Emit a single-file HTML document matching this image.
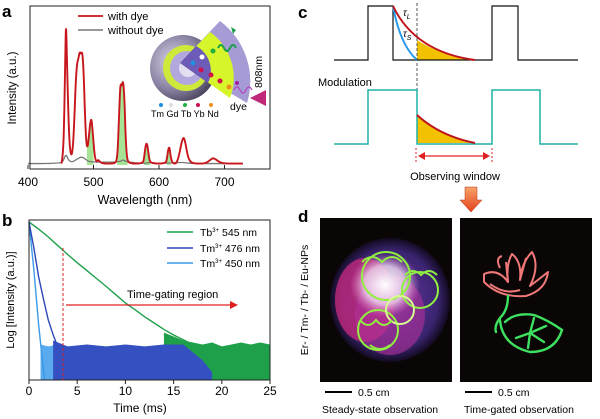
<!DOCTYPE html>
<html><head><meta charset="utf-8"><style>
body{margin:0;background:#fff}
svg{display:block;font-family:"Liberation Sans",Arial,sans-serif}
</style></head><body>
<svg id="fig" width="600" height="419" viewBox="0 0 600 419" xmlns="http://www.w3.org/2000/svg">
<defs>
<radialGradient id="sph" cx="0.35" cy="0.4" r="0.7"><stop offset="0" stop-color="#d8d2e6"/><stop offset="0.6" stop-color="#8a82a2"/><stop offset="1" stop-color="#443d56"/></radialGradient>
<linearGradient id="arrowG" x1="0" y1="0" x2="0" y2="1"><stop offset="0" stop-color="#f9a46a"/><stop offset="1" stop-color="#e2401a"/></linearGradient>
<radialGradient id="blobP" cx="0.5" cy="0.5" r="0.5"><stop offset="0" stop-color="#6a3aa8"/><stop offset="0.8" stop-color="#3a2470"/><stop offset="1" stop-color="#120a20"/></radialGradient>
<radialGradient id="whiteG" cx="0.5" cy="0.5" r="0.5"><stop offset="0" stop-color="#ffffff"/><stop offset="0.6" stop-color="#f0d8f0" stop-opacity="0.8"/><stop offset="1" stop-color="#e080c0" stop-opacity="0"/></radialGradient>
</defs>

<text x="2" y="17" font-size="17" font-weight="bold">a</text>
<text x="2" y="226" font-size="17" font-weight="bold">b</text>
<text x="298" y="18" font-size="17" font-weight="bold">c</text>
<text x="298" y="222" font-size="17" font-weight="bold">d</text>

<!-- Panel a -->
<g id="panelA">
<g id="aFill"></g><g id="aLines"></g>
<rect x="30" y="6" width="240" height="163" fill="none" stroke="#222" stroke-width="1"/>
<g id="aTicks"></g>
<text x="145" y="204" font-size="12.5" text-anchor="middle">Wavelength (nm)</text>
<text transform="translate(16,88) rotate(-90)" font-size="11.5" text-anchor="middle">Intensity (a.u.)</text>
<line x1="78" y1="16" x2="103" y2="16" stroke="#c8161d" stroke-width="1.8"/>
<text x="108" y="20" font-size="11">with dye</text>
<line x1="78" y1="30" x2="103" y2="30" stroke="#777" stroke-width="1.6"/>
<text x="108" y="34" font-size="11">without dye</text>
<g>
<circle cx="183" cy="68" r="33" fill="url(#sph)"/>
<circle cx="186" cy="68" r="23" fill="#cfe83a"/>
<circle cx="187" cy="68" r="17" fill="#b3a8de"/>
<circle cx="188" cy="68" r="9" fill="#e4def2"/>
<path d="M180,63 L220,21 A75,75 0 0 1 247,103 Z" fill="#a79bd6"/>
<path d="M180,63 L210,32 A56,56 0 0 1 230,98 Z" fill="#d6f52a"/>
<path d="M180,63 L196,46 A28,28 0 0 1 208,83 Z" fill="#6e5bb8"/>
<path d="M218,48 q3,-6 6,0 q3,6 6,0 q3,-6 6,0" fill="none" stroke="#1aa04a" stroke-width="2"/>
<polygon points="236,30 231,27 233,34" fill="#1aa04a"/>
<path d="M234,90 q3,-6 6,0 q3,6 6,0 q3,-6 6,0" fill="none" stroke="#b040c0" stroke-width="1.2"/>
<polygon points="250,98 266,90 266,106" fill="#c0287a"/>
<circle cx="193" cy="63" r="2.5" fill="#1e90e0"/><circle cx="202" cy="57" r="2.5" fill="#fff"/>
<circle cx="213" cy="51" r="2.5" fill="#20b040"/><circle cx="201" cy="70" r="2.5" fill="#d0104a"/>
<circle cx="211" cy="75" r="2.5" fill="#d0104a"/><circle cx="220" cy="81" r="2.5" fill="#d0104a"/>
<circle cx="229" cy="87" r="2.5" fill="#f09020"/><circle cx="237" cy="83" r="2" fill="#a020a0"/>
<circle cx="161" cy="105" r="2" fill="#1e90e0"/><circle cx="171" cy="105" r="2" fill="#ddd"/>
<circle cx="185" cy="105" r="2" fill="#20b040"/><circle cx="198" cy="105" r="2" fill="#d0104a"/><circle cx="211" cy="105" r="2" fill="#f09020"/>
<text x="151" y="117" font-size="9">Tm Gd Tb Yb Nd</text>
<text x="230" y="110" font-size="10.5">dye</text>
<text transform="translate(262,88) rotate(-90)" font-size="10.5">808nm</text>
</g>
</g>

<!-- Panel b -->
<g id="panelB">
<g id="bData"></g>
<rect x="29" y="220" width="241" height="160" fill="none" stroke="#222" stroke-width="1"/>
<g id="bTicks"></g>
<line x1="63" y1="248" x2="63" y2="380" stroke="#e02020" stroke-width="1" stroke-dasharray="3,2"/>
<line x1="66" y1="305" x2="232" y2="305" stroke="#e02020" stroke-width="1.2"/>
<polygon points="238,305 230,301 230,309" fill="#e02020"/>
<text x="127" y="298" font-size="11">Time-gating region</text>
<text x="140" y="412" font-size="12" text-anchor="middle">Time (ms)</text>
<text transform="translate(14,300) rotate(-90)" font-size="11" text-anchor="middle">Log [Intensity (a.u.)]</text>
<line x1="167" y1="232" x2="193" y2="232" stroke="#1ea04a" stroke-width="1.5"/><text x="200" y="236" font-size="10.5">Tb<tspan font-size="6" dy="-4">3+</tspan><tspan dy="4"> 545 nm</tspan></text>
<line x1="167" y1="248" x2="193" y2="248" stroke="#2e46b8" stroke-width="1.5"/><text x="200" y="252" font-size="10.5">Tm<tspan font-size="6" dy="-4">3+</tspan><tspan dy="4"> 476 nm</tspan></text>
<line x1="167" y1="263" x2="193" y2="263" stroke="#3a9ae8" stroke-width="1.5"/><text x="200" y="267" font-size="10.5">Tm<tspan font-size="6" dy="-4">3+</tspan><tspan dy="4"> 450 nm</tspan></text>
</g>

<!-- Panel c -->
<g>
<path d="M417,60 L417,40 Q440,55 475,60 Z" fill="#f2c200"/>
<path d="M417,143 L417,115 Q440,136 475,143 Z" fill="#f2c200"/>
<polyline points="334,60 368,60 368,6 393,6 393,60 492,60 492,6 518,6 518,60 578,60" fill="none" stroke="#111" stroke-width="1.2"/>
<path d="M393,6 Q400,45 417,60" fill="none" stroke="#2a9ae8" stroke-width="2"/>
<path d="M393,6 Q415,52 475,60" fill="none" stroke="#c0141c" stroke-width="2"/>
<line x1="417" y1="3" x2="417" y2="122" stroke="#555" stroke-width="1" stroke-dasharray="3,2"/>
<text x="403" y="16" font-size="10" font-style="italic">τ<tspan font-size="7" dy="3">L</tspan></text>
<text x="403" y="37" font-size="10" font-style="italic">τ<tspan font-size="7" dy="3">S</tspan></text>
<text x="318" y="86" font-size="11">Modulation</text>
<polyline points="334,144 368,144 368,90 417,90 417,144 492,144 492,90 540,90 540,144 578,144" fill="none" stroke="#20b0a8" stroke-width="1.5"/>
<path d="M417,115 Q440,136 475,143" fill="none" stroke="#c0141c" stroke-width="2"/>
<line x1="416" y1="148" x2="416" y2="163" stroke="#e02020" stroke-dasharray="2,2"/>
<line x1="492" y1="148" x2="492" y2="163" stroke="#e02020" stroke-dasharray="2,2"/>
<line x1="421" y1="156" x2="487" y2="156" stroke="#e02020" stroke-width="1.2"/>
<polygon points="418,156 425,152 425,160" fill="#e02020"/><polygon points="490,156 483,152 483,160" fill="#e02020"/>
<text x="455" y="180" font-size="11" text-anchor="middle">Observing window</text>
<polygon points="465,187 477,187 477,200 482,200 471,212 460,200 465,200" fill="url(#arrowG)" stroke="#b03010" stroke-width="0.5"/>
</g>

<!-- Panel d -->
<g>
<text transform="translate(308,300) rotate(-90)" font-size="10.5" text-anchor="middle">Er- / Tm- / Tb- / Eu-NPs</text>
<rect x="320" y="218" width="132" height="164" fill="#0a0606"/>
<g>
<ellipse cx="390" cy="300" rx="60" ry="62" fill="url(#blobP)"/>
<ellipse cx="365" cy="300" rx="30" ry="42" fill="#c0287a" opacity="0.8"/>
<ellipse cx="390" cy="315" rx="35" ry="40" fill="#b0309a" opacity="0.6"/>
<ellipse cx="385" cy="285" rx="35" ry="32" fill="url(#whiteG)"/>
<g fill="none" stroke="#90f040" stroke-width="2">
<circle cx="386" cy="276" r="24"/><circle cx="420" cy="290" r="18"/><circle cx="378" cy="330" r="20"/>
<circle cx="400" cy="310" r="14" stroke="#d8f890"/>
<path d="M362,262 q10,-10 20,0 q10,-10 20,0 M405,275 q8,-8 16,0 q8,-8 16,0 M360,320 q8,10 16,0 q8,10 16,0 M370,345 q10,8 20,0"/>
</g>
</g>
<rect x="460" y="218" width="132" height="164" fill="#0a0606"/>
<g fill="none" stroke="#f07878" stroke-width="2" stroke-linejoin="round">
<path d="M484,282 Q500,298 526,296 Q546,290 548,272 Q538,280 530,286 Q540,266 532,252 Q522,262 520,280 Q522,262 512,254 Q506,264 508,282 Q498,268 484,274 Z"/>
<path d="M490,284 Q505,295 520,290 M508,282 L506,262 M520,280 L526,258 M500,268 Q495,258 502,256"/>
</g>
<g fill="none" stroke="#3ee060" stroke-width="2.4" stroke-linecap="round">
<path d="M508,296 Q508,310 500,318 Q494,326 496,332"/>
<path d="M500,320 Q502,345 530,352 Q555,352 562,330 Q548,320 534,315 Q515,312 505,322"/>
<path d="M530,333 L546,326 M530,333 L528,348 M530,333 L516,338 M530,333 L534,318 M530,333 L544,342"/>
</g>
<line x1="325" y1="392" x2="352" y2="392" stroke="#000" stroke-width="2"/><text x="358" y="396" font-size="10.5">0.5 cm</text>
<line x1="465" y1="392" x2="492" y2="392" stroke="#000" stroke-width="2"/><text x="498" y="396" font-size="10.5">0.5 cm</text>
<text x="322" y="413" font-size="10.5">Steady-state observation</text>
<text x="464" y="413" font-size="10.5">Time-gated observation</text>
</g>
</svg>
<script>
// ---- Panel a data ----
const aWithDyeWl = [451,453,455,457,458,459,461,463,465,467,469,471,473,475,477,479,481,483,485,487,489,491,493,495,497,499,502,505,507,510,515,530,535,537,539,541,543,545,547,549,551,554,575,577,579,581,583,585,588,610,612,614,616,618,621,626,629,632,635,638,641,644,648,655,670,677,682,687,692,700,728];
const aWithDyeI  = [0.01,0.05,0.25,0.8,1.0,0.85,0.45,0.18,0.08,0.07,0.15,0.35,0.6,0.72,0.75,0.8,0.78,0.8,0.65,0.35,0.15,0.12,0.2,0.3,0.33,0.22,0.05,0.02,0.04,0.02,0.01,0.01,0.02,0.1,0.35,0.58,0.55,0.6,0.5,0.2,0.05,0.01,0.01,0.04,0.12,0.16,0.12,0.04,0.01,0.01,0.04,0.11,0.13,0.05,0.01,0.01,0.04,0.1,0.17,0.2,0.14,0.06,0.02,0.01,0.01,0.03,0.05,0.04,0.02,0.01,0.01];
const aNoDyeWl = [400,450,454,458,462,468,474,482,488,494,540,545,550,580,585,600,638,645,728];
const aNoDyeI  = [0.01,0.01,0.03,0.08,0.03,0.02,0.04,0.06,0.04,0.02,0.02,0.04,0.02,0.01,0.02,0.01,0.02,0.01,0.01];
const aFillRanges = [[490,500],[536,552],[577,587],[612,618]];
const aTickLabels = [400,500,600,700];
// ---- Panel b data ----
const bTbT = [0,1,2,3,4,5,6,7,8,9,10,11,12,13,14,15,16,17];
const bTbLog = [0,-0.18,-0.38,-0.6,-0.82,-1.03,-1.23,-1.43,-1.63,-1.84,-2.05,-2.22,-2.4,-2.56,-2.72,-2.86,-2.98,-3.1];
const bTbNoiseT = [14,15,16,17,18,19,20,21,22,23,24,25];
const bTbNoiseTop = [-2.8,-2.9,-3.0,-3.05,-3.1,-3.05,-3.15,-3.1,-3.05,-3.1,-3.05,-3.1];
const bTm476T = [0,0.5,1,1.5,2,2.5,2.8];
const bTm476Log = [0,-0.65,-1.39,-1.95,-2.48,-2.85,-3.04];
const bTm476NoiseT = [2.5,4,6,8,10,12,14,16,17,18,19];
const bTm476NoiseTop = [-3.0,-3.15,-3.1,-3.15,-3.1,-3.15,-3.1,-3.1,-3.3,-3.5,-3.8];
const bTm450T = [0,0.5,1,1.3,1.6];
const bTm450Log = [0,-1.2,-2.6,-3.3,-4];
const bTm450NoiseT = [1.2,2,3,4,4.5];
const bTm450NoiseTop = [-3.1,-3.15,-3.1,-3.3,-4];
const bTickLabels = [0,5,10,15,20,25];

const NS = "http://www.w3.org/2000/svg";
function mk(tag, attrs, parent){const e=document.createElementNS(NS,tag);for(const k in attrs)e.setAttribute(k,attrs[k]);parent.appendChild(e);return e;}
const ax = wl => 28 + (wl-400)*0.655;
const ay = v => 165 - v*142;
function interp(xs, ys, x){for(let i=0;i<xs.length-1;i++){if(x>=xs[i]&&x<=xs[i+1]){const t=(x-xs[i])/(xs[i+1]-xs[i]);return ys[i]+t*(ys[i+1]-ys[i]);}}return 0;}
function smooth(pts){let d='M'+pts[0][0]+','+pts[0][1];for(let i=1;i<pts.length-1;i++){const mx=(pts[i][0]+pts[i+1][0])/2,my=(pts[i][1]+pts[i+1][1])/2;d+=' Q'+pts[i][0]+','+pts[i][1]+' '+mx+','+my;}const l=pts[pts.length-1];d+=' L'+l[0]+','+l[1];return d;}
const aFill=document.getElementById('aFill'), aLines=document.getElementById('aLines'), aTicks=document.getElementById('aTicks');
aFillRanges.forEach(r=>{
  let pts=[ax(r[0])+','+ay(0)];
  const xs=[r[0]].concat(aWithDyeWl.filter(w=>w>r[0]&&w<r[1])).concat([r[1]]);
  xs.forEach(w=>pts.push(ax(w)+','+ay(interp(aWithDyeWl,aWithDyeI,w))));
  pts.push(ax(r[1])+','+ay(0));
  const p=mk('polygon',{points:pts.join(' '),fill:'#9be08a',opacity:'0.9'},aFill);
  
  
});
const g=mk('path',{d:smooth(aNoDyeWl.map((w,i)=>[ax(w),ay(aNoDyeI[i])])),fill:'none',stroke:'#777','stroke-width':1.3},aLines);


const r=mk('path',{d:smooth(aWithDyeWl.map((w,i)=>[ax(w),ay(aWithDyeI[i])])),fill:'none',stroke:'#c8161d','stroke-width':1.9,'stroke-linejoin':'round'},aLines);


aTickLabels.forEach(v=>{
  mk('line',{x1:ax(v),y1:169,x2:ax(v),y2:165,stroke:'#222'},aTicks);
  const t=mk('text',{x:ax(v),y:186,'font-size':12,'text-anchor':'middle'},aTicks);t.textContent=v;
  
  
});
const bx = t => 29 + t*241/25;
const by = v => 222 - v*(158/4);
const bD=document.getElementById('bData'), bT=document.getElementById('bTicks');
function band(ts, tops, color, name){
  let pts=[bx(ts[0])+','+by(-4)];
  ts.forEach((t,i)=>{pts.push(bx(t)+','+by(tops[i]));});
  pts.push(bx(ts[ts.length-1])+','+by(-4));
  const p=mk('polygon',{points:pts.join(' '),fill:color},bD);
  
  
}
function line(ts, vals, color, name){
  const p=mk('polyline',{points:ts.map((t,i)=>bx(t)+','+by(vals[i])).join(' '),fill:'none',stroke:color,'stroke-width':1.4},bD);
  
  
}
band(bTbNoiseT,bTbNoiseTop,'#1ea04a','tb-noise');
band(bTm450NoiseT,bTm450NoiseTop,'#5aaaf0','tm450-noise');
band(bTm476NoiseT,bTm476NoiseTop,'#3550c0','tm476-noise');
line(bTbT,bTbLog,'#1ea04a','series-tb-545');
line(bTm450T,bTm450Log,'#3a9ae8','series-tm-450');
line(bTm476T,bTm476Log,'#2e46b8','series-tm-476');
bTickLabels.forEach(v=>{
  mk('line',{x1:bx(v),y1:380,x2:bx(v),y2:384,stroke:'#222'},bT);
  const t=mk('text',{x:bx(v),y:395,'font-size':12,'text-anchor':'middle'},bT);t.textContent=v;
  
  
});
</script>
</body></html>
